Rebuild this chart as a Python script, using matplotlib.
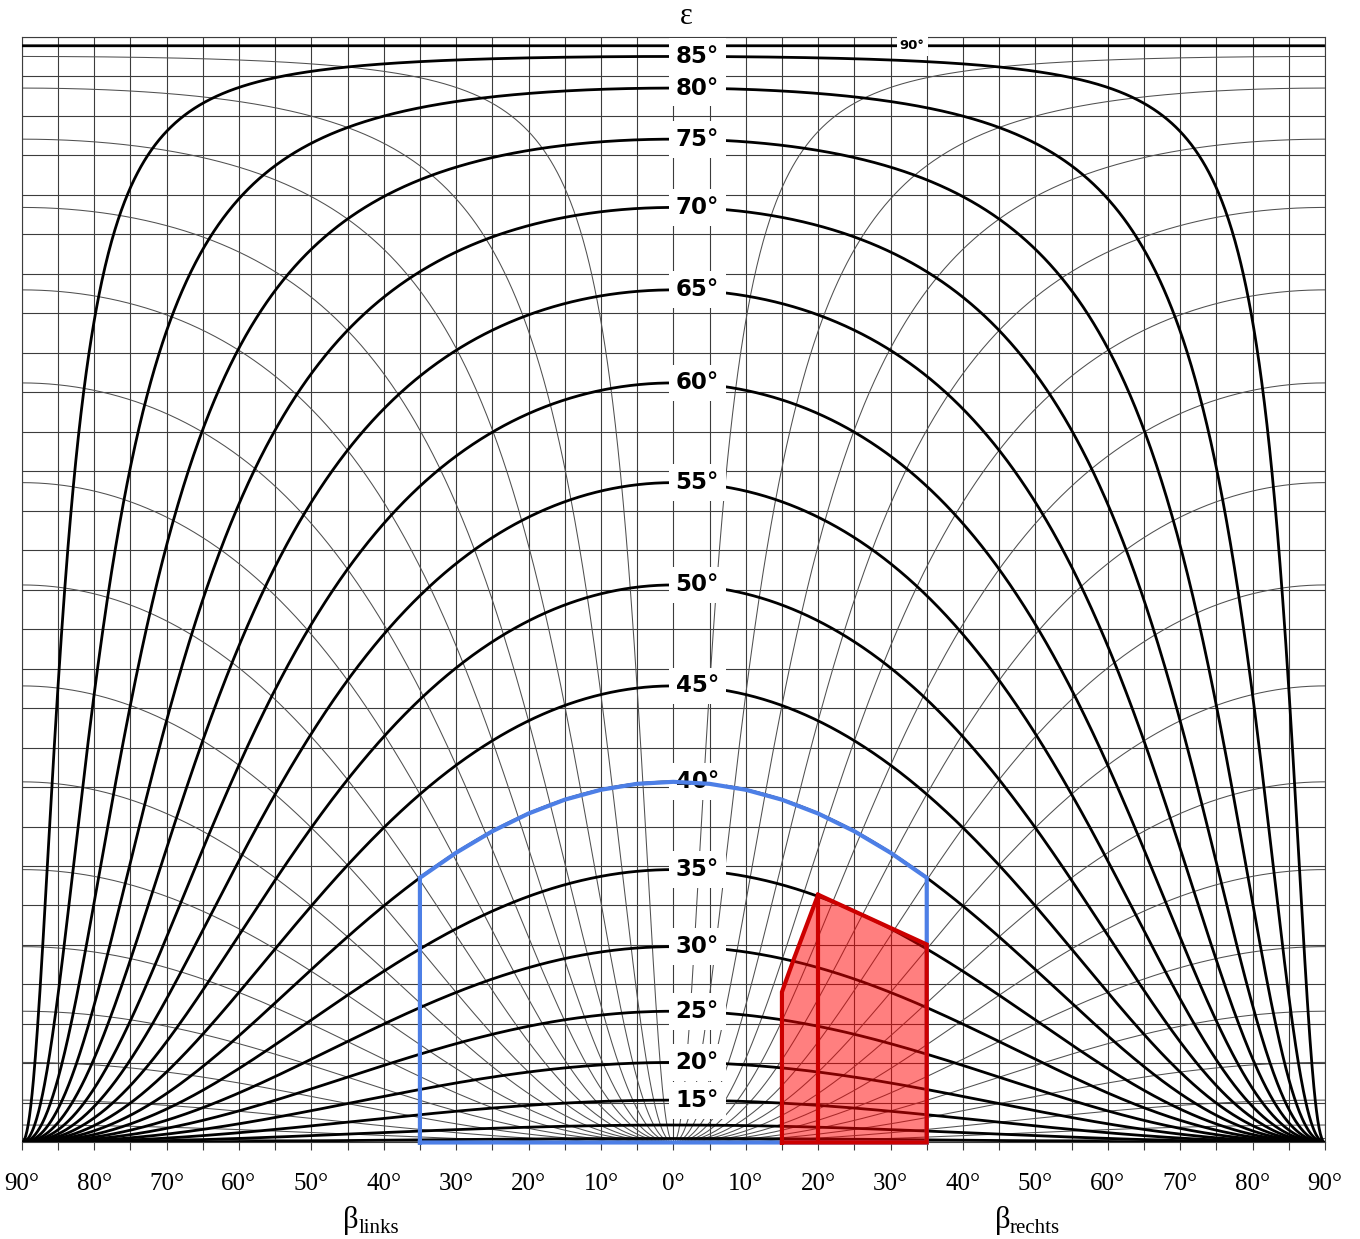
import numpy as np
import matplotlib
matplotlib.use("Agg")
import matplotlib.pyplot as plt

# ---------------- data ----------------
eps_levels = [5, 10, 15, 20, 25, 30, 35, 40, 45, 50, 55, 60, 65, 70, 75, 80, 85, 90]
eps_labeled = [15, 20, 25, 30, 35, 40, 45, 50, 55, 60, 65, 70, 75, 80, 85]
beta_ticks = [-90, -80, -70, -60, -50, -40, -30, -20, -10, 0, 10, 20, 30, 40, 50, 60, 70, 80, 90]
beta_minor = list(range(-85, 90, 10))
tick_labels = ["90°", "80°", "70°", "60°", "50°", "40°", "30°", "20°", "10°", "0°",
               "10°", "20°", "30°", "40°", "50°", "60°", "70°", "80°", "90°"]
n_rows = 28                      # horizontal grid rows
blue_beta_range = [-35, 35]      # blue sector (beta)
blue_eps = 40                    # blue sector upper edge (epsilon)
red_beta = [15, 15, 16.6, 20, 35, 35]
red_alpha = [0, 26.6, 29.05, 33.45, 30.15, 0]
red_divider_beta = 20


def ordinate(alpha_deg):
    s = np.sin(np.radians(alpha_deg))
    return (3 * s ** 2 + 4 * s ** 3) / 7.0


def alpha_cos(eps, beta):
    if eps >= 90:
        return np.full_like(beta, 90.0)
    return np.degrees(np.arctan(np.tan(np.radians(eps)) * np.cos(np.radians(beta))))


def alpha_sin(eps, beta):
    if eps >= 90:
        return np.full_like(beta, 90.0)
    return np.degrees(np.arctan(np.tan(np.radians(eps)) * np.abs(np.sin(np.radians(beta)))))


# ---------------- figure ----------------
fig = plt.figure(figsize=(13.6, 12.39), dpi=100)
ax = fig.add_axes([0.01596, 0.0779, 0.95827, 0.8926])
ytop = 1.0084
ax.set_xlim(-90, 90)
ax.set_ylim(0, ytop)

gcol = "#3c3c3c"
ax.set_xticks(beta_ticks)
ax.set_xticklabels(tick_labels, fontfamily="Liberation Serif", fontsize=18)
ax.set_xticks(beta_minor, minor=True)
ax.set_yticks(np.linspace(0, ytop, n_rows + 1))
ax.tick_params(axis="x", which="both", length=6, width=0.8, color=gcol, pad=16)
ax.tick_params(axis="y", which="both", length=0, labelleft=False)
ax.grid(True, axis="x", which="both", color=gcol, lw=0.8)
ax.grid(True, axis="y", which="major", color=gcol, lw=0.8)
ax.set_axisbelow(True)
for sp in ax.spines.values():
    sp.set_color(gcol)
    sp.set_linewidth(0.8)

beta = np.linspace(-90, 90, 2001)

# thin family (rotated by 90 deg)
for e in eps_levels:
    ax.plot(beta, ordinate(alpha_sin(e, beta)), color="#505050", lw=0.75, zorder=2)

# thick family
for e in eps_levels:
    ax.plot(beta, ordinate(alpha_cos(e, beta)), color="black", lw=2.0, zorder=3,
            solid_capstyle="butt")

# labels
bbox = dict(boxstyle="square,pad=0.3", fc="white", ec="none")
for e in eps_labeled:
    ax.text(3.3, ordinate(e), f"{e}°", fontfamily="DejaVu Sans", fontweight="bold",
            fontsize=16.5, ha="center", va="center", bbox=bbox, zorder=4)
ax.text(33, ordinate(90), "90°", fontfamily="DejaVu Sans", fontweight="bold",
        fontsize=9.5, ha="center", va="center",
        bbox=dict(boxstyle="square,pad=0.25", fc="white", ec="none"), zorder=4)
ax.text(1.8, 1.027, "ε", fontfamily="Liberation Serif", fontsize=22,
        ha="center", va="center", clip_on=False)

# beta axis names
ax.text(-44.5, -0.071, "β", fontfamily="Liberation Serif", fontsize=22,
        ha="center", va="center", clip_on=False)
ax.text(-43.5, -0.078, "links", fontfamily="Liberation Serif", fontsize=15,
        ha="left", va="center", clip_on=False)
ax.text(45.5, -0.071, "β", fontfamily="Liberation Serif", fontsize=22,
        ha="center", va="center", clip_on=False)
ax.text(46.5, -0.078, "rechts", fontfamily="Liberation Serif", fontsize=15,
        ha="left", va="center", clip_on=False)

# blue sector
bb = np.linspace(blue_beta_range[0], blue_beta_range[1], 15)
bx = np.concatenate([[blue_beta_range[0]], bb, [blue_beta_range[1], blue_beta_range[0]]])
by = np.concatenate([[0], ordinate(alpha_cos(blue_eps, bb)), [0, 0]])
ax.plot(bx, by, color="#4d7fe6", lw=3.0, zorder=5, solid_joinstyle="miter", clip_on=False)

# red sector
rx = np.array(red_beta)
ry = ordinate(np.array(red_alpha))
ax.fill(rx, ry, facecolor=(1, 0, 0, 0.5), edgecolor="none", zorder=6)
ax.plot(np.append(rx, rx[0]), np.append(ry, ry[0]), color="#cc0000", lw=3.0,
        zorder=7, solid_joinstyle="miter", clip_on=False)
top_at_div = np.interp(red_divider_beta, rx[1:5], ry[1:5])
ax.plot([red_divider_beta, red_divider_beta], [0, top_at_div], color="#cc0000",
        lw=3.0, zorder=7)

fig.savefig("out.png", dpi=100)
